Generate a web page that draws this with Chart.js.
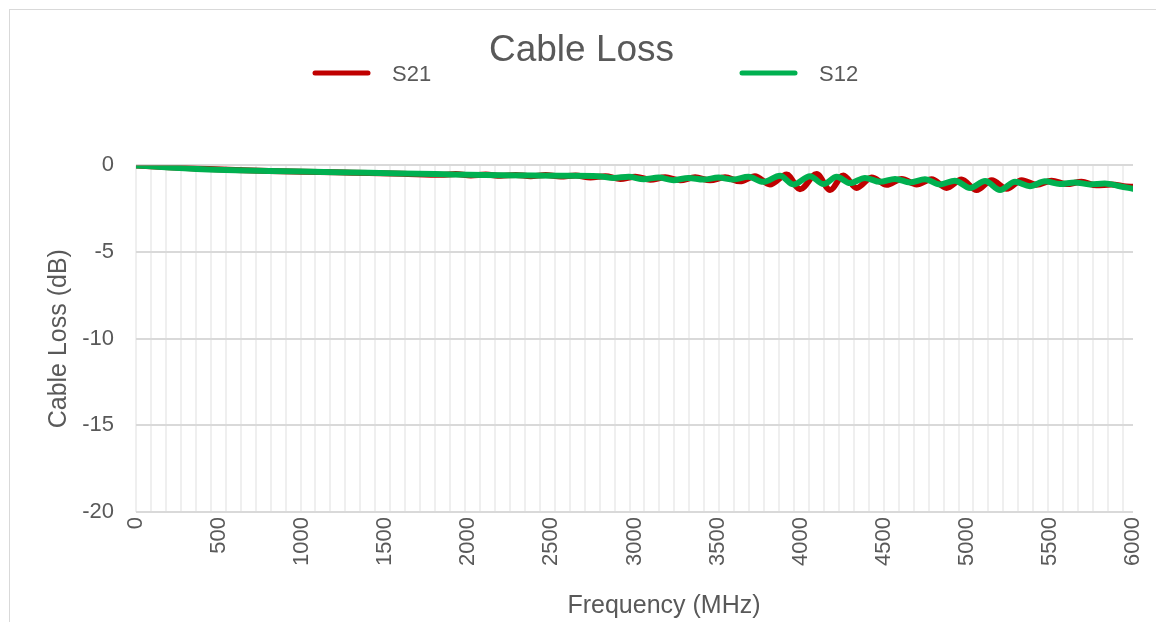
<!DOCTYPE html>
<html>
<head>
<meta charset="utf-8">
<title>Cable Loss</title>
<script src="https://cdn.jsdelivr.net/npm/chart.js@4.4.1/dist/chart.umd.min.js"></script>
<style>
  body { margin: 0; background: #fff; overflow: hidden; }
  #frame { position: absolute; left: 9px; top: 9px; width: 1200px; height: 700px; border: 1px solid #d9d9d9; }
  #chart { position: absolute; left: 0; top: 0; }
</style>
</head>
<body>
<div id="frame"></div>
<canvas id="chart" width="1156" height="622"></canvas>
<script>
// S21 - frequency (MHz) and loss (dB)
const s21Freq = [0, 200, 400, 600, 800, 1000, 1200, 1400, 1600, 1835, 1925, 2015, 2105, 2195, 2285, 2375, 2465,
    2555, 2645, 2735, 2825, 2915, 3005, 3095, 3185, 3275, 3365, 3455, 3545, 3635, 3725, 3815, 3916, 3996,
    4096, 4177, 4257, 4337, 4427, 4517, 4608, 4698, 4788, 4878, 4968, 5059, 5150, 5240, 5330, 5420, 5510,
    5600, 5690, 5780, 5870, 5960, 6000];
const s21Loss = [0, -0.1, -0.2, -0.27, -0.32, -0.36, -0.4, -0.44, -0.48, -0.54, -0.5, -0.58, -0.53, -0.6, -0.55, -0.62, -0.56,
    -0.64, -0.58, -0.7, -0.62, -0.78, -0.65, -0.83, -0.68, -0.86, -0.69, -0.86, -0.69, -0.92, -0.62, -1.1, -0.52, -1.38,
    -0.5, -1.42, -0.58, -1.3, -0.7, -1.12, -0.78, -1.1, -0.8, -1.3, -0.82, -1.42, -0.85, -1.35, -0.85, -1.12, -0.88,
    -1.08, -0.95, -1.15, -1.1, -1.22, -1.23];

// S12
const s12Freq = [0, 200, 400, 600, 800, 1000, 1200, 1400, 1600, 1800, 2000, 2200, 2400, 2600, 2780, 2875, 2965,
    3055, 3145, 3235, 3325, 3415, 3505, 3595, 3685, 3775, 3876, 3956, 4056, 4137, 4217, 4297, 4387, 4477,
    4568, 4658, 4748, 4838, 4928, 5019, 5110, 5200, 5290, 5380, 5470, 5560, 5650, 5740, 5830, 5920, 6000];
const s12Loss = [0, -0.12, -0.22, -0.28, -0.32, -0.35, -0.39, -0.43, -0.47, -0.5, -0.54, -0.57, -0.59, -0.6, -0.62, -0.72, -0.66,
    -0.8, -0.7, -0.85, -0.72, -0.82, -0.7, -0.82, -0.66, -0.95, -0.6, -1.1, -0.62, -1.08, -0.66, -1.02, -0.72, -0.95,
    -0.78, -0.98, -0.8, -1.1, -0.88, -1.3, -0.9, -1.42, -0.95, -1.2, -0.92, -1.08, -0.98, -1.1, -1.05, -1.2, -1.35];

const xLabels = [0, 500, 1000, 1500, 2000, 2500, 3000, 3500, 4000, 4500, 5000, 5500, 6000];
const yTicks = [0, -5, -10, -15, -20];

const textColor = '#595959';
const gridStep = 90;

function toPoints(freq, loss) {
    return freq.map((f, i) => ({ x: f, y: loss[i] }));
}

// legend + x axis title drawn by hand, the Excel layout puts them where Chart.js won't
const legendX = [315, 742];
const extraText = {
    id: 'extraText',
    afterDraw(chart) {
        const ctx = chart.ctx;
        ctx.save();
        chart.data.datasets.forEach((ds, i) => {
            const x = legendX[i];
            ctx.strokeStyle = ds.borderColor;
            ctx.lineWidth = 5;
            ctx.lineCap = 'round';
            ctx.beginPath();
            ctx.moveTo(x, 73);
            ctx.lineTo(x + 53, 73);
            ctx.stroke();
            ctx.fillStyle = textColor;
            ctx.font = '22px "Liberation Sans", Arial, sans-serif';
            ctx.textAlign = 'left';
            ctx.textBaseline = 'middle';
            ctx.fillText(ds.label, x + 77, 75);
        });
        ctx.font = '25px "Liberation Sans", Arial, sans-serif';
        ctx.textAlign = 'center';
        ctx.textBaseline = 'middle';
        ctx.fillText('Frequency (MHz)', 664, 606);
        ctx.restore();
    }
};

const ctx = document.getElementById('chart').getContext('2d');
new Chart(ctx, {
    type: 'line',
    data: {
        datasets: [
            {
                label: 'S21',
                data: toPoints(s21Freq, s21Loss),
                borderColor: '#c00000',
                order: 2
            },
            {
                label: 'S12',
                data: toPoints(s12Freq, s12Loss),
                borderColor: '#00b050',
                order: 1
            }
        ]
    },
    options: {
        responsive: false,
        animation: false,
        layout: { padding: { left: 30, right: 23, top: 0, bottom: 0 } },
        elements: {
            point: { radius: 0 },
            line: {
                borderWidth: 6,
                borderCapStyle: 'round',
                borderJoinStyle: 'round',
                cubicInterpolationMode: 'monotone'
            }
        },
        plugins: {
            legend: { display: false },
            tooltip: { enabled: false },
            title: {
                display: true,
                text: 'Cable Loss',
                color: textColor,
                font: { family: '"Liberation Sans", Arial, sans-serif', size: 37, weight: 'normal' },
                padding: { top: 29, bottom: 92 }
            }
        },
        scales: {
            x: {
                type: 'linear',
                min: 0,
                max: 6000,
                afterBuildTicks: (scale) => {
                    const vals = [];
                    for (let v = 0; v <= 6000; v += gridStep) vals.push(v);
                    xLabels.forEach(v => { if (!vals.includes(v)) vals.push(v); });
                    vals.sort((a, b) => a - b);
                    scale.ticks = vals.map(v => ({ value: v }));
                },
                afterFit: (scale) => {
                    scale.height = 110;
                    // rotated labels fit inside the layout padding, no extra room needed
                    scale.paddingLeft = 0;
                    scale.paddingRight = 0;
                },
                border: { display: false },
                grid: {
                    drawTicks: false,
                    lineWidth: 2,
                    color: (c) => (c.tick && c.tick.value % gridStep === 0) ? '#efefef' : 'rgba(0,0,0,0)'
                },
                ticks: {
                    autoSkip: false,
                    minRotation: 90,
                    maxRotation: 90,
                    padding: 5,
                    color: textColor,
                    font: { family: '"Liberation Sans", Arial, sans-serif', size: 22 },
                    callback: (v) => xLabels.includes(v) ? String(v) : ''
                }
            },
            y: {
                min: -20,
                max: 0,
                afterBuildTicks: (scale) => { scale.ticks = yTicks.map(v => ({ value: v })); },
                afterFit: (scale) => { scale.width = 106; },
                border: { display: false },
                grid: { drawTicks: false, lineWidth: 2, color: '#d9d9d9' },
                ticks: {
                    padding: 22,
                    color: textColor,
                    font: { family: '"Liberation Sans", Arial, sans-serif', size: 22 }
                },
                title: {
                    display: true,
                    text: 'Cable Loss (dB)',
                    color: textColor,
                    font: { family: '"Liberation Sans", Arial, sans-serif', size: 25 },
                    padding: { top: 14, bottom: 0 }
                }
            }
        }
    },
    plugins: [extraText]
});
</script>
</body>
</html>
